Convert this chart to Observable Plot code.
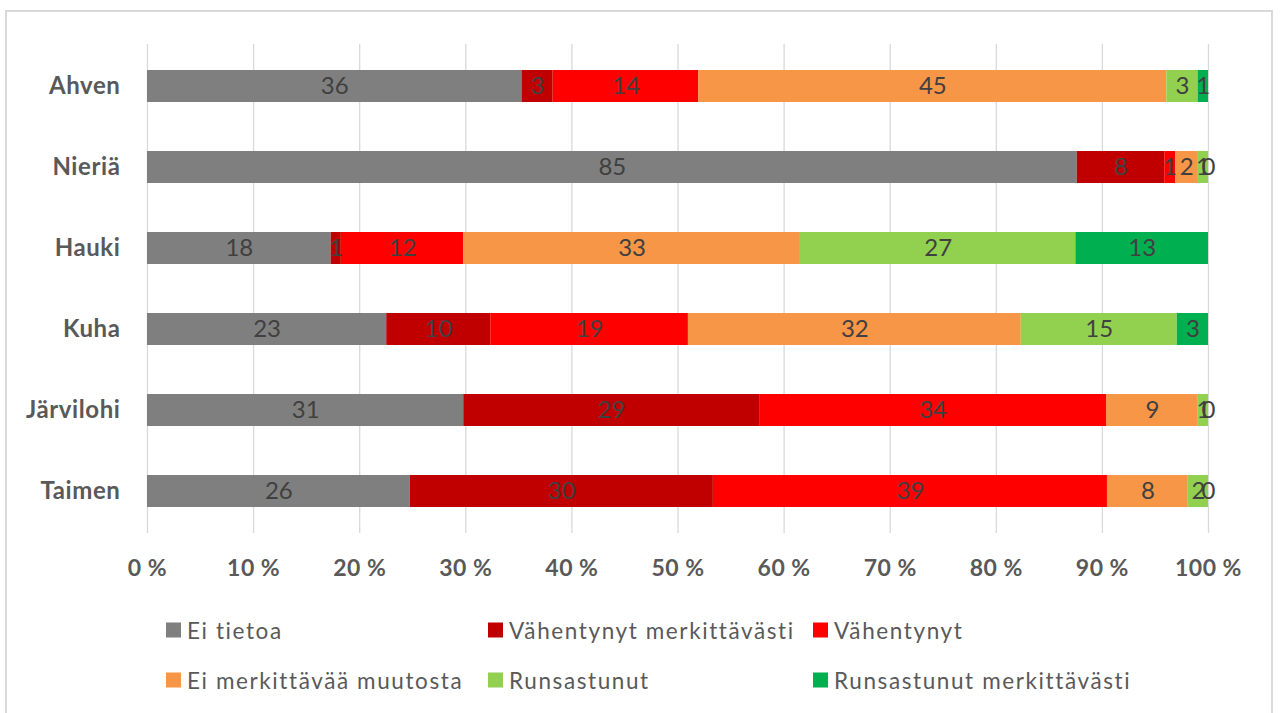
<!DOCTYPE html>
<html>
<head>
<meta charset="utf-8">
<script src="https://cdn.jsdelivr.net/npm/d3@7"></script>
<script src="https://cdn.jsdelivr.net/npm/@observablehq/plot@0.6"></script>
<style>
  html, body { margin: 0; padding: 0; background: #fff; }
  #wrap { position: relative; width: 1280px; height: 713px; overflow: hidden; font-family: Lato, "Open Sans", sans-serif; }
  #frame { position: absolute; left: 5px; top: 10px; width: 1268px; height: 740px; border: 2px solid #d9d9d9; box-sizing: border-box; }
  #chart { position: absolute; left: 0; top: 0; }
  .lg { position: absolute; display: flex; align-items: center; font-size: 22.5px; letter-spacing: 1.6px; color: #595959; white-space: nowrap; transform: translateY(-50%); }
  .lg .sw { width: 15px; height: 15px; margin-right: 6px; display: inline-block; }
</style>
</head>
<body>
<div id="wrap">
  <div id="frame"></div>
  <div id="chart"></div>
</div>
<script>
const species = ["Ahven", "Nieriä", "Hauki", "Kuha", "Järvilohi", "Taimen"];
const categories = ["Ei tietoa", "Vähentynyt merkittävästi", "Vähentynyt", "Ei merkittävää muutosta", "Runsastunut", "Runsastunut merkittävästi"];
const eiTietoa       = [36, 85, 18, 23, 31, 26];
const vahMerkittava  = [3, 8, 1, 10, 29, 30];
const vahentynyt     = [14, 1, 12, 19, 34, 39];
const eiMuutosta     = [45, 2, 33, 32, 9, 8];
const runsastunut    = [3, 1, 27, 15, 1, 2];
const runsMerkittava = [1, 0, 13, 3, 0, 0];
const colors = ["#7f7f7f", "#c00000", "#ff0000", "#f79646", "#92d050", "#00b050"];
const xTicks = [0, 0.1, 0.2, 0.3, 0.4, 0.5, 0.6, 0.7, 0.8, 0.9, 1];
const xTickLabels = ["0 %", "10 %", "20 %", "30 %", "40 %", "50 %", "60 %", "70 %", "80 %", "90 %", "100 %"];

const series = [eiTietoa, vahMerkittava, vahentynyt, eiMuutosta, runsastunut, runsMerkittava];
const rows = [];
species.forEach((s, i) => {
  categories.forEach((c, j) => {
    rows.push({species: s, category: c, value: series[j][i]});
  });
});

const stackOpts = {offset: "normalize", order: null};
const plot = Plot.plot({
  width: 1280,
  height: 600,
  marginLeft: 147,
  marginRight: 72,
  marginTop: 44,
  marginBottom: 67,
  style: {fontFamily: "Lato, 'Open Sans', sans-serif", background: "transparent"},
  x: {domain: [0, 1]},
  y: {domain: species, paddingInner: 0.607, paddingOuter: 0.3035},
  color: {domain: categories, range: colors},
  marks: [
    Plot.gridX(xTicks, {stroke: "#d9d9d9", strokeOpacity: 1, strokeWidth: 1.3}),
    Plot.barX(rows, Plot.stackX(stackOpts, {x: "value", y: "species", fill: "category"})),
    Plot.text(rows, Plot.stackX(stackOpts, {x: "value", y: "species", z: "category", text: d => String(d.value), fill: "#404040", fontSize: 24})),
    Plot.axisX({ticks: xTicks, tickFormat: (d, i) => xTickLabels[i], tickSize: 0, tickPadding: 26, fontSize: 23, fontWeight: "bold", fill: "#595959", label: null}),
    Plot.axisY({tickSize: 0, tickPadding: 27, fontSize: 24, fontWeight: "bold", fill: "#595959", label: null})
  ]
});
d3.select(plot).selectAll('g[aria-label="y-axis tick label"] text').attr("letter-spacing", "0.6px");
d3.select(plot).selectAll('g[aria-label="x-axis tick label"] text').attr("letter-spacing", "0.5px");
document.getElementById("chart").appendChild(plot);

const legendPos = [[166, 630], [488, 630], [813, 630], [166, 680], [488, 680], [813, 680]];
const wrap = document.getElementById("wrap");
categories.forEach((c, i) => {
  const el = document.createElement("div");
  el.className = "lg";
  el.style.left = legendPos[i][0] + "px";
  el.style.top = legendPos[i][1] + "px";
  const sw = document.createElement("span");
  sw.className = "sw";
  sw.style.background = colors[i];
  el.appendChild(sw);
  el.appendChild(document.createTextNode(c));
  wrap.appendChild(el);
});
</script>
</body>
</html>
